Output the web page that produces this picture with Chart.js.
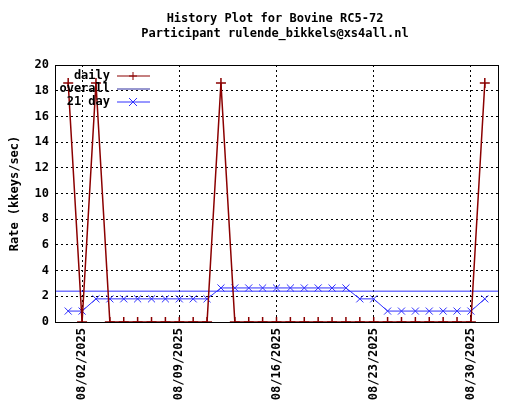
<!DOCTYPE html>
<html>
<head>
<script src="https://cdn.jsdelivr.net/npm/chart.js@4"></script>
<style>body{margin:0;background:#fff}</style>
</head>
<body>
<canvas id="chart" width="520" height="400"></canvas>
<script>
// August 2025, day of month
const days = Array.from({length: 31}, (_, i) => i + 1);
const daily = [18.6, 0, 18.6, 0, 0, 0, 0, 0, 0, 0, 0, 18.6, 0, 0, 0, 0, 0, 0, 0, 0, 0, 0, 0, 0, 0, 0, 0, 0, 0, 0, 18.6];
const day21 = [0.85, 0.85, 1.8, 1.8, 1.8, 1.8, 1.8, 1.8, 1.8, 1.8, 1.8, 2.65, 2.65, 2.65, 2.65, 2.65, 2.65, 2.65, 2.65, 2.65, 2.65, 1.8, 1.8, 0.85, 0.85, 0.85, 0.85, 0.85, 0.85, 0.85, 1.8];
const overall = 2.4;
const tickDays = [2, 9, 16, 23, 30];
const yTicks = [0, 2, 4, 6, 8, 10, 12, 14, 16, 18, 20];

const font = '"DejaVu Sans Mono", monospace';
const red = '#8b0000';
const blue = '#3030ff';

function label(d) {
    return '08/' + String(d).padStart(2, '0') + '/2025';
}

const plotDecor = {
    id: 'plotDecor',
    afterDraw(chart) {
        const ctx = chart.ctx;
        const a = chart.chartArea;
        ctx.save();
        ctx.fillStyle = '#000';
        ctx.font = 'bold 12px ' + font;
        ctx.textAlign = 'center';
        ctx.fillText('History Plot for Bovine RC5-72', 275, 22);
        ctx.fillText('Participant rulende_bikkels@xs4all.nl', 275, 37);
        // border
        ctx.strokeStyle = '#000';
        ctx.lineWidth = 1;
        ctx.setLineDash([]);
        ctx.strokeRect(a.left + 0.5, a.top + 0.5, a.right - a.left, a.bottom - a.top);
        // legend
        const items = [['daily', red, '+'], ['overall', '#3030a0', ''], ['21 day', blue, 'x']];
        ctx.textAlign = 'right';
        ctx.textBaseline = 'middle';
        items.forEach((it, i) => {
            const y = a.top + 11 + i * 13;
            ctx.fillStyle = '#000';
            ctx.fillText(it[0], 110, y);
            ctx.strokeStyle = it[1];
            ctx.beginPath();
            ctx.moveTo(117, y); ctx.lineTo(150, y);
            ctx.stroke();
            const cx = 133;
            ctx.beginPath();
            if (it[2] === '+') {
                ctx.moveTo(cx - 4, y); ctx.lineTo(cx + 4, y);
                ctx.moveTo(cx, y - 4); ctx.lineTo(cx, y + 4);
            } else if (it[2] === 'x') {
                ctx.moveTo(cx - 4, y - 4); ctx.lineTo(cx + 4, y + 4);
                ctx.moveTo(cx - 4, y + 4); ctx.lineTo(cx + 4, y - 4);
            }
            ctx.stroke();
        });
        ctx.restore();
    }
};

new Chart(document.getElementById('chart').getContext('2d'), {
    type: 'line',
    data: {
        datasets: [
            {
                label: 'daily',
                data: days.map((d, i) => ({x: d, y: daily[i]})),
                borderColor: red,
                borderWidth: 1.5,
                pointStyle: 'cross',
                pointRadius: 5,
                pointBorderColor: red,
                pointBorderWidth: 1.5,
                tension: 0
            },
            {
                label: 'overall',
                data: [{x: 0, y: overall}, {x: 33, y: overall}],
                borderColor: blue,
                borderWidth: 1,
                pointRadius: 0
            },
            {
                label: '21 day',
                data: days.map((d, i) => ({x: d, y: day21[i]})),
                borderColor: blue,
                borderWidth: 1,
                pointStyle: 'crossRot',
                pointRadius: 5,
                pointBorderColor: blue,
                pointBorderWidth: 1
            }
        ]
    },
    options: {
        responsive: false,
        animation: false,
        layout: {padding: {top: 65, right: 22, left: 8, bottom: 0}},
        plugins: {legend: {display: false}, tooltip: {enabled: false}},
        scales: {
            x: {
                type: 'linear',
                min: 0.05,
                max: 31.95,
                afterBuildTicks: s => { s.ticks = tickDays.map(v => ({value: v})); },
                afterFit: s => { s.height = 78; },
                grid: {color: '#000', drawTicks: false},
                border: {dash: [2, 3], display: true, color: '#000'},
                ticks: {
                    color: '#000',
                    font: {family: font, size: 12, weight: 'bold'},
                    maxRotation: 90,
                    minRotation: 90,
                    padding: 6,
                    callback: v => label(v)
                }
            },
            y: {
                min: 0,
                max: 20,
                afterBuildTicks: s => { s.ticks = yTicks.map(v => ({value: v})); },
                afterFit: s => { s.width = 47; },
                grid: {color: '#000', drawTicks: false},
                border: {dash: [2, 3], display: true, color: '#000'},
                title: {
                    display: true,
                    text: 'Rate (kkeys/sec)',
                    color: '#000',
                    font: {family: font, size: 12, weight: 'bold'},
                    padding: 0
                },
                ticks: {
                    color: '#000',
                    font: {family: font, size: 12, weight: 'bold'},
                    padding: 6
                }
            }
        }
    },
    plugins: [plotDecor]
});
</script>
</body>
</html>
